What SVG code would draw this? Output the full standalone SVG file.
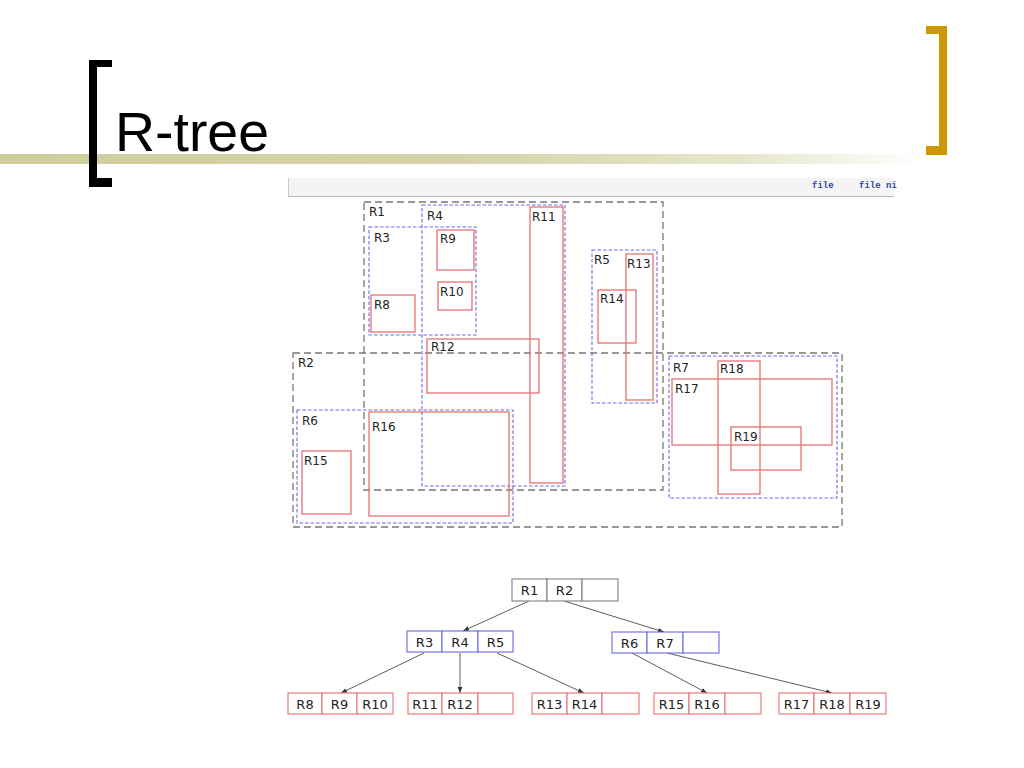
<svg xmlns="http://www.w3.org/2000/svg" width="1024" height="768" viewBox="0 0 1024 768">
<defs>
<linearGradient id="bar" x1="0" y1="0" x2="1" y2="0">
<stop offset="0" stop-color="#cdcd9c"/>
<stop offset="0.5" stop-color="#d4d4a8"/>
<stop offset="0.8" stop-color="#e6e6cc"/>
<stop offset="1" stop-color="#ffffff"/>
</linearGradient>
<marker id="ah" viewBox="0 0 10 10" refX="10" refY="5" markerWidth="6" markerHeight="6" orient="auto" markerUnits="userSpaceOnUse">
<path d="M0,1 L10,5 L0,9 z" fill="#333"/>
</marker>
<style>
.lvl0{fill:none;stroke:#777;stroke-width:1.3;stroke-dasharray:7 4}
.lvl1{fill:none;stroke:#6a6ae0;stroke-width:1.1;stroke-dasharray:3.5 2}
.leaf{fill:none;stroke:#e87070;stroke-width:1.3}
.lbl{font-family:"DejaVu Sans",sans-serif;font-size:12px;fill:#222}
.cell0{fill:#fff;stroke:#808080;stroke-width:1.1}
.cell1{fill:#fff;stroke:#6a6ae0;stroke-width:1.1}
.cell2{fill:#fff;stroke:#e87070;stroke-width:1.1}
.ct{font-family:"DejaVu Sans",sans-serif;font-size:13px;fill:#222;text-anchor:middle}
.edge{stroke:#333;stroke-width:0.8;fill:none;marker-end:url(#ah)}
</style>
</defs>
<rect width="1024" height="768" fill="#fff"/>
<g id="title">
<rect x="0" y="154" width="925" height="10" fill="url(#bar)"/>
<path d="M89,60 H112 V67 H97 V178 H112 V187 H89 Z" fill="#000"/>
<path d="M926,26 H947 V155 H926 V146 H939 V34 H926 Z" fill="#cc9900"/>
<text x="115" y="151" font-family="Liberation Sans, Arial, sans-serif" font-size="56" fill="#000" textLength="154" lengthAdjust="spacingAndGlyphs">R-tree</text>
</g>
<g id="strip">
<rect x="288" y="178" width="606" height="19" fill="#f4f4f4"/>
<line x1="288" y1="196.5" x2="894" y2="196.5" stroke="#b8b8b8" stroke-width="1"/>
<line x1="288.5" y1="178" x2="288.5" y2="197" stroke="#c8c8c8" stroke-width="1"/>
<text x="812" y="188" font-family="Liberation Mono, monospace" font-size="9" font-weight="bold" fill="#2a4aa0">file</text>
<text x="859" y="188" font-family="Liberation Mono, monospace" font-size="9" font-weight="bold" fill="#2a4aa0">file ni</text>
</g>
<g id="spatial">
<g id="R1"><rect class="lvl0" x="364" y="202" width="299" height="288"/><text class="lbl" x="369" y="216">R1</text></g>
<g id="R2"><rect class="lvl0" x="293" y="353" width="549" height="174"/><text class="lbl" x="298" y="367">R2</text></g>
<g id="R3"><rect class="lvl1" x="369" y="227" width="107" height="108"/><text class="lbl" x="374" y="242">R3</text></g>
<g id="R4"><rect class="lvl1" x="422" y="205" width="143" height="281"/><text class="lbl" x="427" y="220">R4</text></g>
<g id="R5"><rect class="lvl1" x="592" y="250" width="65" height="153"/><text class="lbl" x="594" y="264">R5</text></g>
<g id="R6"><rect class="lvl1" x="297" y="410" width="216" height="113"/><text class="lbl" x="302" y="425">R6</text></g>
<g id="R7"><rect class="lvl1" x="669" y="356" width="168" height="142"/><text class="lbl" x="673" y="372">R7</text></g>
<g id="R8"><rect class="leaf" x="371" y="295" width="44" height="37"/><text class="lbl" x="374" y="309">R8</text></g>
<g id="R9"><rect class="leaf" x="437" y="230" width="37" height="40"/><text class="lbl" x="440" y="243">R9</text></g>
<g id="R10"><rect class="leaf" x="438" y="282" width="34" height="28"/><text class="lbl" x="440" y="296">R10</text></g>
<g id="R11"><rect class="leaf" x="530" y="207" width="33" height="276"/><text class="lbl" x="532" y="221">R11</text></g>
<g id="R12"><rect class="leaf" x="427" y="339" width="112" height="54"/><text class="lbl" x="431" y="351">R12</text></g>
<g id="R13"><rect class="leaf" x="626" y="254" width="27" height="146"/><text class="lbl" x="627" y="268">R13</text></g>
<g id="R14"><rect class="leaf" x="598" y="290" width="38" height="53"/><text class="lbl" x="600" y="303">R14</text></g>
<g id="R15"><rect class="leaf" x="302" y="451" width="49" height="63"/><text class="lbl" x="304" y="465">R15</text></g>
<g id="R16"><rect class="leaf" x="369" y="412" width="140" height="104"/><text class="lbl" x="372" y="431">R16</text></g>
<g id="R17"><rect class="leaf" x="672" y="379" width="160" height="66"/><text class="lbl" x="675" y="393">R17</text></g>
<g id="R18"><rect class="leaf" x="718" y="361" width="42" height="133"/><text class="lbl" x="720" y="373">R18</text></g>
<g id="R19"><rect class="leaf" x="731" y="427" width="70" height="43"/><text class="lbl" x="734" y="441">R19</text></g>
</g>
<g id="connectors">
<line class="edge" x1="529" y1="601" x2="463" y2="631"/>
<line class="edge" x1="564" y1="601" x2="664" y2="632"/>
<line class="edge" x1="424" y1="653" x2="341" y2="693"/>
<line class="edge" x1="460" y1="653" x2="460" y2="693"/>
<line class="edge" x1="497" y1="653" x2="584" y2="693"/>
<line class="edge" x1="632" y1="653" x2="707" y2="693"/>
<line class="edge" x1="667" y1="653" x2="832" y2="693"/>
</g>
<g id="node-root">
<rect class="cell0" x="512" y="579" width="35" height="22"/><rect class="cell0" x="547" y="579" width="35" height="22"/><rect class="cell0" x="582" y="579" width="36" height="22"/>
<text class="ct" x="529.5" y="595">R1</text><text class="ct" x="564.5" y="595">R2</text>
</g>
<g id="node-R3R4R5">
<rect class="cell1" x="407" y="631" width="35" height="21"/><rect class="cell1" x="442" y="631" width="36" height="21"/><rect class="cell1" x="478" y="631" width="35" height="21"/>
<text class="ct" x="424.5" y="647">R3</text><text class="ct" x="460" y="647">R4</text><text class="ct" x="495.5" y="647">R5</text>
</g>
<g id="node-R6R7">
<rect class="cell1" x="612" y="632" width="35" height="21"/><rect class="cell1" x="647" y="632" width="36" height="21"/><rect class="cell1" x="683" y="632" width="36" height="21"/>
<text class="ct" x="629.5" y="648">R6</text><text class="ct" x="665" y="648">R7</text>
</g>
<g id="node-R8R9R10">
<rect class="cell2" x="288" y="693" width="34" height="21"/><rect class="cell2" x="322" y="693" width="35" height="21"/><rect class="cell2" x="357" y="693" width="36" height="21"/>
<text class="ct" x="305" y="709">R8</text><text class="ct" x="339.5" y="709">R9</text><text class="ct" x="375" y="709">R10</text>
</g>
<g id="node-R11R12">
<rect class="cell2" x="408" y="693" width="34" height="21"/><rect class="cell2" x="442" y="693" width="36" height="21"/><rect class="cell2" x="478" y="693" width="35" height="21"/>
<text class="ct" x="425" y="709">R11</text><text class="ct" x="460" y="709">R12</text>
</g>
<g id="node-R13R14">
<rect class="cell2" x="532" y="693" width="35" height="21"/><rect class="cell2" x="567" y="693" width="35" height="21"/><rect class="cell2" x="602" y="693" width="37" height="21"/>
<text class="ct" x="549.5" y="709">R13</text><text class="ct" x="584.5" y="709">R14</text>
</g>
<g id="node-R15R16">
<rect class="cell2" x="654" y="693" width="35" height="21"/><rect class="cell2" x="689" y="693" width="36" height="21"/><rect class="cell2" x="725" y="693" width="36" height="21"/>
<text class="ct" x="671.5" y="709">R15</text><text class="ct" x="707" y="709">R16</text>
</g>
<g id="node-R17R18R19">
<rect class="cell2" x="779" y="693" width="35" height="21"/><rect class="cell2" x="814" y="693" width="36" height="21"/><rect class="cell2" x="850" y="693" width="36" height="21"/>
<text class="ct" x="796.5" y="709">R17</text><text class="ct" x="832" y="709">R18</text><text class="ct" x="868" y="709">R19</text>
</g>
</svg>
